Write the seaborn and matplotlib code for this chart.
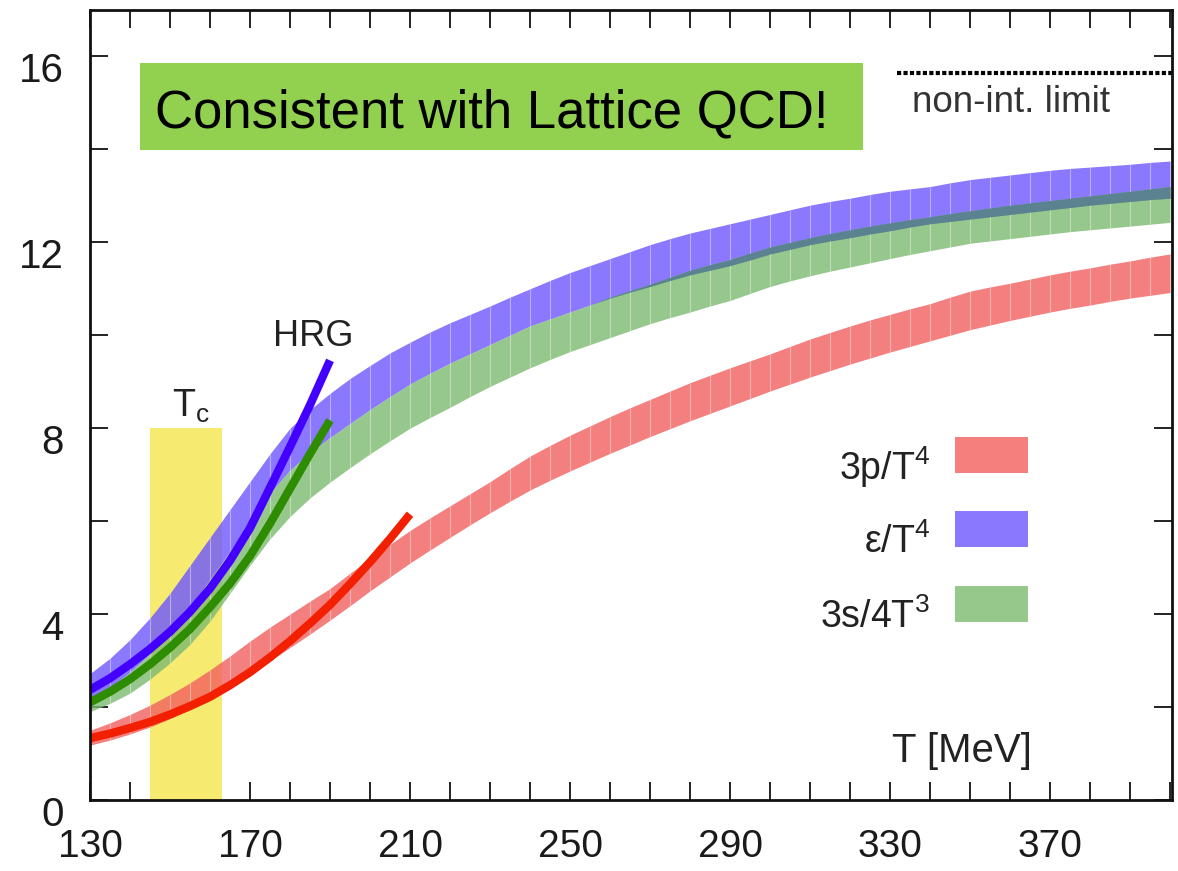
import numpy as np
import matplotlib
matplotlib.use("Agg")
import matplotlib.pyplot as plt
from matplotlib.patches import Rectangle
from matplotlib.transforms import ScaledTranslation
import seaborn as sns

# ---------------- data ----------------
T = [130, 135, 140, 145, 150, 155, 160, 165, 170, 175, 180, 185, 190, 195, 200, 205, 210, 215,
     220, 225, 230, 235, 240, 245, 250, 255, 260, 265, 270, 275, 280, 285, 290, 295, 300, 305,
     310, 315, 320, 325, 330, 335, 340, 345, 350, 355, 360, 365, 370, 375, 380, 385, 390, 395, 400]

# 3p/T^4 band
p_lo = [1.18, 1.29, 1.42, 1.57, 1.75, 1.97, 2.22, 2.45, 2.72, 3.00, 3.28, 3.57, 3.87, 4.18,
        4.50, 4.80, 5.10, 5.38, 5.65, 5.92, 6.18, 6.43, 6.67, 6.88, 7.08, 7.27, 7.46, 7.64,
        7.82, 7.99, 8.16, 8.32, 8.48, 8.64, 8.80, 8.95, 9.10, 9.24, 9.38, 9.51, 9.64, 9.76,
        9.88, 10.00, 10.12, 10.22, 10.32, 10.41, 10.50, 10.58, 10.65, 10.73, 10.80, 10.86, 10.92]
p_hi = [1.50, 1.66, 1.84, 2.04, 2.27, 2.52, 2.80, 3.10, 3.42, 3.72, 4.00, 4.28, 4.55, 4.88,
        5.20, 5.50, 5.80, 6.07, 6.33, 6.59, 6.85, 7.13, 7.40, 7.63, 7.85, 8.05, 8.25, 8.44,
        8.62, 8.80, 8.98, 9.14, 9.30, 9.45, 9.60, 9.76, 9.92, 10.06, 10.20, 10.33, 10.45, 10.57,
        10.68, 10.82, 10.95, 11.04, 11.12, 11.21, 11.30, 11.38, 11.45, 11.53, 11.60, 11.68, 11.75]

# epsilon/T^4 band
e_lo = [2.15, 2.42, 2.75, 3.15, 3.60, 4.15, 4.75, 5.35, 6.00, 6.60, 7.10, 7.47, 7.80, 8.10,
        8.40, 8.68, 8.95, 9.18, 9.40, 9.60, 9.80, 10.00, 10.20, 10.35, 10.50, 10.65, 10.80, 10.93,
        11.05, 11.18, 11.30, 11.40, 11.50, 11.62, 11.75, 11.85, 11.95, 12.03, 12.10, 12.18, 12.25, 12.33,
        12.40, 12.45, 12.50, 12.55, 12.60, 12.65, 12.70, 12.75, 12.80, 12.84, 12.88, 12.92, 12.95]
e_hi = [2.72, 3.05, 3.45, 3.92, 4.45, 5.05, 5.65, 6.25, 6.85, 7.45, 8.00, 8.40, 8.75, 9.07,
        9.35, 9.62, 9.85, 10.07, 10.27, 10.45, 10.63, 10.82, 11.00, 11.18, 11.35, 11.50, 11.65, 11.80,
        11.95, 12.08, 12.20, 12.30, 12.40, 12.50, 12.60, 12.70, 12.80, 12.88, 12.95, 13.03, 13.10, 13.15,
        13.20, 13.28, 13.35, 13.40, 13.45, 13.50, 13.55, 13.59, 13.62, 13.65, 13.68, 13.72, 13.75]

# 3s/4T^3 band
s_lo = [1.90, 2.08, 2.30, 2.60, 2.95, 3.35, 3.85, 4.45, 5.05, 5.62, 6.10, 6.50, 6.84, 7.15,
        7.45, 7.73, 8.00, 8.23, 8.45, 8.68, 8.90, 9.10, 9.30, 9.48, 9.65, 9.80, 9.95, 10.10,
        10.25, 10.38, 10.50, 10.63, 10.75, 10.90, 11.05, 11.17, 11.28, 11.38, 11.47, 11.56, 11.65, 11.74,
        11.82, 11.90, 11.98, 12.03, 12.08, 12.13, 12.18, 12.23, 12.27, 12.31, 12.35, 12.39, 12.43]
s_hi = [2.15, 2.42, 2.75, 3.15, 3.60, 4.15, 4.75, 5.35, 6.00, 6.60, 7.10, 7.47, 7.80, 8.10,
        8.40, 8.68, 8.95, 9.18, 9.40, 9.60, 9.80, 10.00, 10.20, 10.35, 10.50, 10.65, 10.82, 10.96,
        11.10, 11.25, 11.40, 11.52, 11.63, 11.77, 11.90, 12.00, 12.10, 12.19, 12.27, 12.35, 12.42, 12.49,
        12.55, 12.62, 12.68, 12.74, 12.80, 12.85, 12.90, 12.95, 13.00, 13.05, 13.10, 13.15, 13.20]

# HRG curves
T_hrg = [130, 135, 140, 145, 150, 155, 160, 165, 170, 175, 180, 185, 190]
e_hrg = [2.37, 2.62, 2.92, 3.25, 3.62, 4.05, 4.55, 5.15, 5.85, 6.72, 7.60, 8.50, 9.46]
s_hrg = [2.10, 2.33, 2.60, 2.92, 3.28, 3.68, 4.15, 4.66, 5.25, 5.95, 6.70, 7.45, 8.17]
T_hrg_p = [130, 135, 140, 145, 150, 155, 160, 165, 170, 175, 180, 185, 190, 195, 200, 205, 210]
p_hrg = [1.33, 1.43, 1.55, 1.68, 1.84, 2.02, 2.22, 2.47, 2.75, 3.07, 3.42, 3.80, 4.20, 4.65,
         5.12, 5.62, 6.15]

Tc_range = [145, 163]
Tc_height = 8.0
sb_limit = 15.65
sb_T = [331.75, 400.5]

x_major = [130, 170, 210, 250, 290, 330, 370]
y_major = [0, 4, 8, 12, 16]

legend_labels = ["3p/T$^\\mathregular{4}$", "ε/T$^\\mathregular{4}$", "3s/4T$^\\mathregular{3}$"]

# ---------------- style ----------------
sns.set_theme(style="ticks")
plt.rcParams["font.family"] = ["Liberation Sans", "DejaVu Sans"]
plt.rcParams["mathtext.fontset"] = "custom"
plt.rcParams["mathtext.rm"] = "Liberation Sans"
plt.rcParams["mathtext.it"] = "Liberation Sans:italic"
plt.rcParams["mathtext.bf"] = "Liberation Sans:bold"

red_fill, blue_fill, green_fill = "#F1605E", "#6D56FF", "#7CBA6F"
red_leg, blue_leg, green_leg = "#F4807E", "#8A78FF", "#96C88C"
overlap_col = "#5A8290"

fig = plt.figure(figsize=(11.78, 8.71), dpi=100)
ax = fig.add_axes([90 / 1178, 71 / 871, 1082 / 1178, 790 / 871])

Ta = np.array(T)

# Tc band
ax.fill_between(Tc_range, 0, Tc_height, color="#F7EA70", lw=0, zorder=1)

# lattice bands
for lo, hi, col in [(p_lo, p_hi, red_fill), (e_lo, e_hi, blue_fill), (s_lo, s_hi, green_fill)]:
    ax.fill_between(Ta, lo, hi, color=col, alpha=0.8, lw=0, zorder=2)
    ax.vlines(Ta[1:-1], np.array(lo)[1:-1], np.array(hi)[1:-1], color="white",
              alpha=0.4, lw=0.8, zorder=2.5)

# blue / green overlap
sh = np.array(s_hi)
el = np.array(e_lo)
ax.fill_between(Ta, el, sh, where=sh > el, interpolate=True, color=overlap_col, lw=0, zorder=2.6)

# HRG lines
sns.lineplot(x=T_hrg_p, y=p_hrg, ax=ax, color="#F22000", lw=6, zorder=4,
             estimator=None, solid_capstyle="butt")
sns.lineplot(x=T_hrg, y=s_hrg, ax=ax, color="#2E8C00", lw=6, zorder=4,
             estimator=None, solid_capstyle="butt")
sns.lineplot(x=T_hrg, y=e_hrg, ax=ax, color="#4400FF", lw=6, zorder=4,
             estimator=None, solid_capstyle="butt")

# non-interacting limit
ax.plot(sb_T, [sb_limit, sb_limit], color="black", lw=3.0, linestyle=(0, (1.0, 0.55)), zorder=3,
        clip_on=False)
ax.text(335.5, 14.8, "non-int. limit", fontsize=26.5, color="#333333", ha="left", va="baseline")

# labels
ax.text(175.75, 9.78, "HRG", fontsize=26, color="#222222", ha="left", va="baseline")
ax.text(150.5, 8.24, "T$_\\mathregular{c}$", fontsize=27, color="#222222", ha="left", va="baseline")
ax.text(330.5, 0.82, "T [MeV]", fontsize=29, color="#222222", ha="left", va="baseline")

# green banner
ax.add_patch(Rectangle((50 / 1082, 650 / 790), 723 / 1082, 87 / 790, transform=ax.transAxes,
                       facecolor="#92D050", edgecolor="none", zorder=5))
ax.text(65 / 1082, 673 / 790, "Consistent with Lattice QCD!", transform=ax.transAxes,
        fontsize=38, color="black", ha="left", va="baseline", zorder=6)

# manual legend
leg_cols = [red_leg, blue_leg, green_leg]
patch_y = [327 / 790, 253 / 790, 178 / 790]
text_y = [320 / 790, 247 / 790, 172 / 790]
for lab, col, py, ty in zip(legend_labels, leg_cols, patch_y, text_y):
    ax.add_patch(Rectangle((865 / 1082, py), 73 / 1082, 36 / 790, transform=ax.transAxes,
                           facecolor=col, edgecolor="none", zorder=5))
    ax.text(840 / 1082, ty, lab, transform=ax.transAxes, fontsize=27, color="#222222",
            ha="right", va="baseline", zorder=6)

# axes
ax.set_xlim(130, 400.5)
ax.set_ylim(0, 17)
ax.set_xticks(x_major)
ax.set_xticks(np.arange(140, 401, 10), minor=True)
ax.set_yticks(y_major)
ax.set_yticks([2, 6, 10, 14], minor=True)
ax.tick_params(which="both", direction="in", length=13, width=1.3, top=True, right=True,
               color="#111111")
ax.tick_params(axis="x", which="major", labelsize=28, pad=21, labelcolor="#1a1a1a")
ax.tick_params(axis="y", which="major", labelsize=29, pad=19, labelcolor="#1a1a1a")
for sp in ax.spines.values():
    sp.set_linewidth(2.0)
    sp.set_color("#111111")
    sp.set_zorder(7)
ax.set_xlabel("")
ax.set_ylabel("")

offset = ScaledTranslation(0, -11 / 100, fig.dpi_scale_trans)
for lbl in ax.get_yticklabels():
    lbl.set_transform(lbl.get_transform() + offset)

fig.savefig("out.png", dpi=100)
